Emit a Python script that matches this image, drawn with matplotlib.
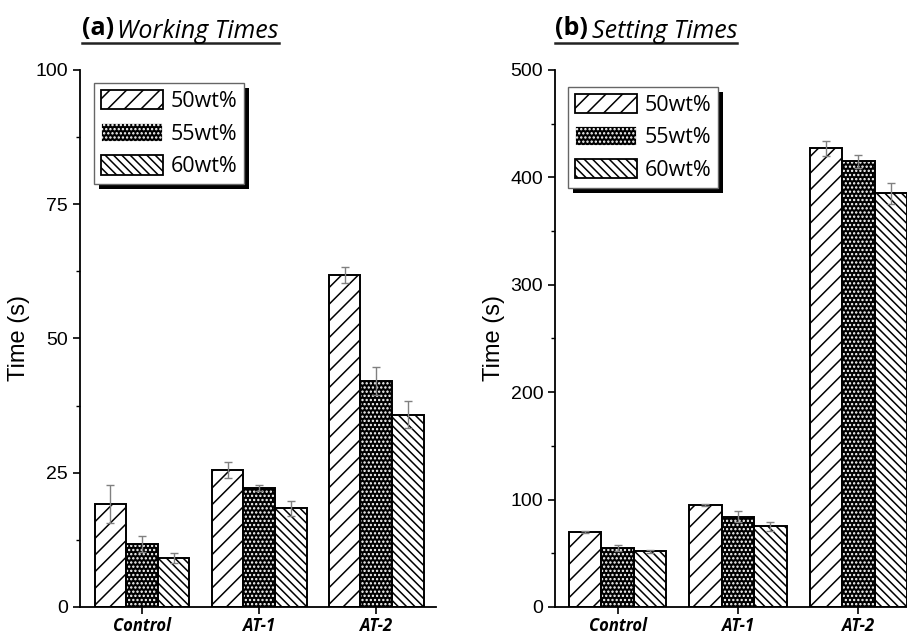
import matplotlib
matplotlib.use("Agg")
import matplotlib.pyplot as plt
from matplotlib.patches import Patch, Rectangle
from matplotlib.transforms import IdentityTransform
import numpy as np

categories = ["Control", "AT-1", "AT-2"]
series = ["50wt%", "55wt%", "60wt%"]

work_50 = [19.2, 25.5, 61.8]
work_55 = [11.7, 22.2, 42.1]
work_60 = [9.1, 18.4, 35.8]
work_50_err = [3.6, 1.5, 1.5]
work_55_err = [1.5, 0.6, 2.6]
work_60_err = [1.0, 1.4, 2.5]

set_50 = [70, 95, 427]
set_55 = [55, 84, 415]
set_60 = [52, 75, 385]
set_50_err = [1.2, 1.2, 7]
set_55_err = [3, 5, 6]
set_60_err = [1.5, 4, 10]

plt.rcParams['hatch.linewidth'] = 1.1

H50 = '//'
H55 = '....'
H60 = '\\\\\\\\'

fig = plt.figure(figsize=(9.07, 6.36), dpi=100)

def panel(rect, xlim, ylim, yticks, minor, vals, errs, anchor, title, tx):
    ax = fig.add_axes(rect)
    x = np.arange(len(categories))
    w = 0.27
    for i, (v, e) in enumerate(zip(vals, errs)):
        pos = x + (i - 1) * w
        if i == 1:
            ax.bar(pos, v, w, facecolor='black', edgecolor='white', hatch=H55, linewidth=0, zorder=2)
            ax.bar(pos, v, w, facecolor='none', edgecolor='black', linewidth=1.4, zorder=3)
        else:
            ax.bar(pos, v, w, facecolor='white', edgecolor='black',
                   hatch=H50 if i == 0 else H60, linewidth=1.4, zorder=2)
        ax.errorbar(pos, v, yerr=e, fmt='none', ecolor='#808080', elinewidth=1, capsize=3, capthick=1, zorder=4)
    handles = [Patch(facecolor='white', edgecolor='black', hatch=H50, linewidth=1.3),
               Patch(facecolor='black', edgecolor='white', hatch=H55, linewidth=1.3),
               Patch(facecolor='white', edgecolor='black', hatch=H60, linewidth=1.3)]
    leg = ax.legend(handles, series, loc='upper left', bbox_to_anchor=anchor,
                    borderaxespad=0, fancybox=False, shadow=False,
                    handlelength=2.9, handleheight=1.0, labelspacing=0.5, handletextpad=0.35,
                    borderpad=0.3, prop={'family': 'Open Sans', 'size': 15.5}, framealpha=1)
    leg.get_frame().set_edgecolor('#666666')
    leg.get_frame().set_linewidth(1.0)
    leg.set_zorder(6)
    ax.set_xlim(*xlim)
    ax.set_ylim(*ylim)
    ax.set_yticks(yticks)
    ax.set_yticks(minor, minor=True)
    ax.set_xticks(x)
    ax.set_xticklabels(categories, fontfamily='Open Sans', fontweight='bold', fontstyle='italic', fontsize=12)
    for lab in ax.get_yticklabels():
        lab.set_fontfamily('Liberation Sans')
        lab.set_fontsize(14)
    ax.set_ylabel("Time (s)", fontfamily='Liberation Sans', fontsize=17, labelpad=4)
    for s in ['top', 'right']:
        ax.spines[s].set_visible(False)
    for s in ['left', 'bottom']:
        ax.spines[s].set_linewidth(1.3)
    ax.tick_params(axis='both', which='major', direction='out', length=5, width=1.2)
    ax.tick_params(axis='y', which='minor', direction='out', length=3, width=1.0)
    ax.tick_params(axis='x', which='major', pad=2)
    fig.canvas.draw()
    lb = leg.get_window_extent()
    sh = Rectangle((lb.x0 + 5, lb.y0 - 5), lb.width, lb.height, transform=IdentityTransform(),
                   facecolor='black', edgecolor='none', zorder=5.5, clip_on=False)
    ax.add_artist(sh)
    t1 = fig.text(tx, 0.955, title[0], fontfamily='Open Sans', fontweight='bold', fontsize=18, va='center')
    fig.canvas.draw()
    bb = t1.get_window_extent()
    fx = bb.x1 / fig.bbox.width + 0.004
    t2 = fig.text(fx, 0.951, title[1], fontfamily='Open Sans', fontstyle='italic', fontsize=18, va='center')
    fig.canvas.draw()
    bb2 = t2.get_window_extent()
    x0 = bb.x0 / fig.bbox.width
    x1 = bb2.x1 / fig.bbox.width
    yline = (bb2.y0 + 1) / fig.bbox.height
    fig.add_artist(plt.Line2D([x0, x1], [yline, yline], color='#222222', lw=1.8))
    return ax

panel([0.0882, 0.0456, 0.3925, 0.8444], (-0.53, 2.51), (0, 100),
      [0, 25, 50, 75, 100], [12.5, 37.5, 62.5, 87.5],
      [work_50, work_55, work_60], [work_50_err, work_55_err, work_60_err],
      (0.04, 0.975), ("(a)", "Working Times"), 0.09)
panel([0.612, 0.0456, 0.39, 0.8444], (-0.52, 2.42), (0, 500),
      [0, 100, 200, 300, 400, 500], [50, 150, 250, 350, 450],
      [set_50, set_55, set_60], [set_50_err, set_55_err, set_60_err],
      (0.037, 0.968), ("(b)", "Setting Times"), 0.612)

fig.savefig("out.png", dpi=100)
